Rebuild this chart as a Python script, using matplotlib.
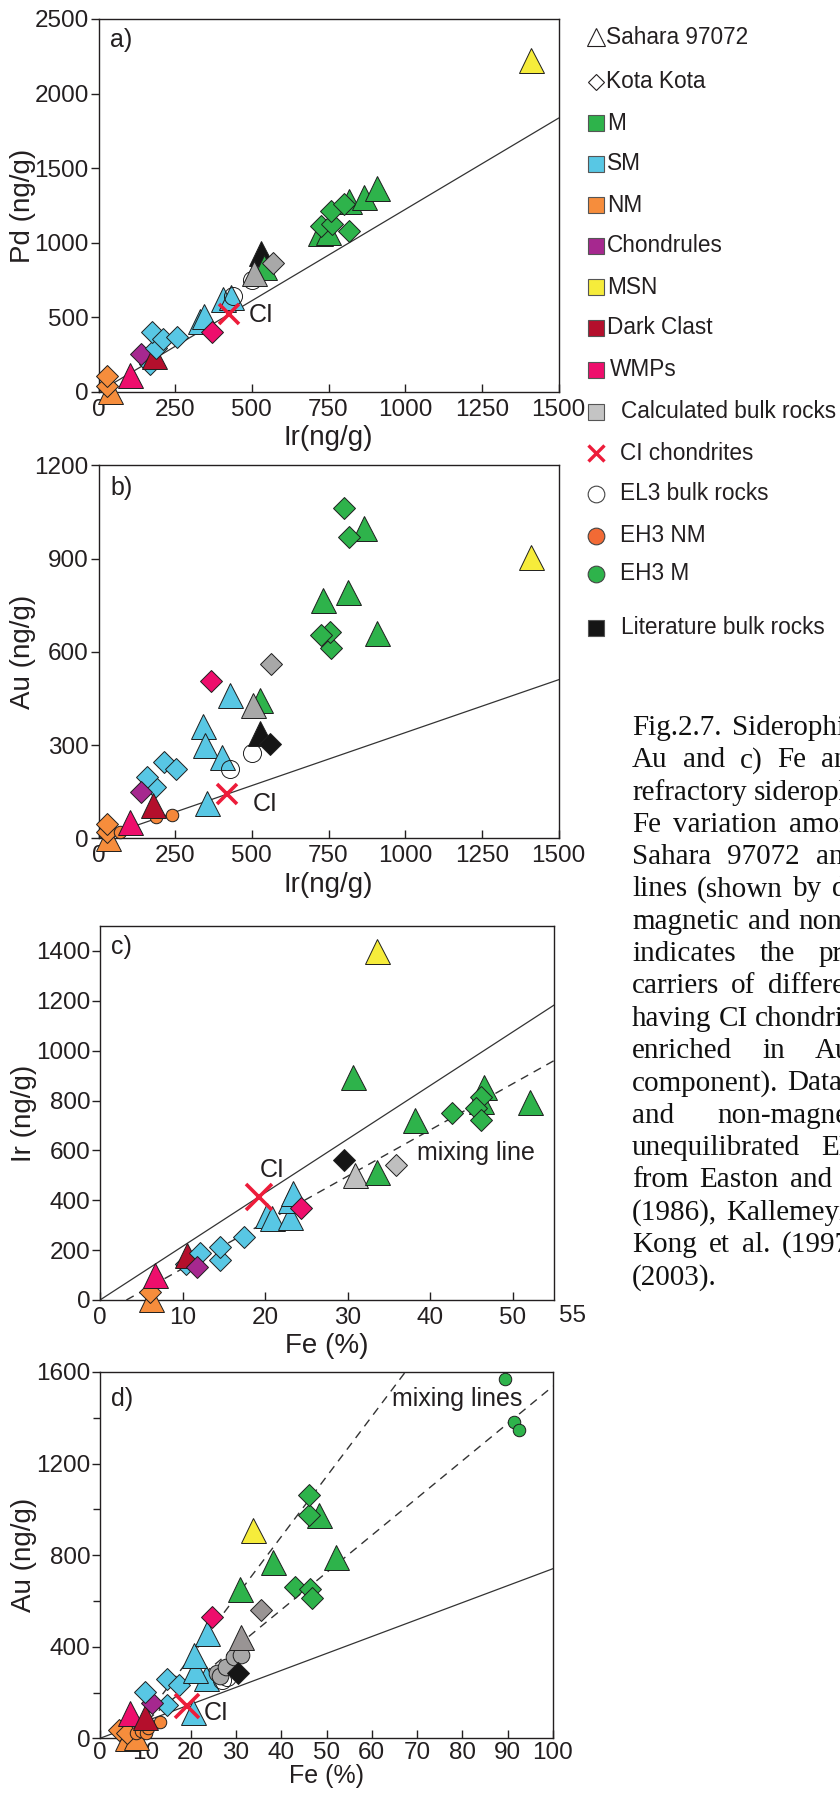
import matplotlib
matplotlib.use("Agg")
import matplotlib.pyplot as plt

plt.rcParams["font.family"] = ["Liberation Sans", "DejaVu Sans"]

# fill colour of each sample group
colors = {
    "M": "#2eb34b", "SM": "#58c7e4", "NM": "#f68d3c", "Chondrules": "#a6288f",
    "MSN": "#f6ec3b", "Dark Clast": "#b40f2c", "WMPs": "#ee0e6c",
    "Calc": "#a8a8a8", "CalcL": "#bfbfbf", "CalcD": "#999494",
    "EL3": "none", "EH3 NM": "#f5873a", "EH3 M": "#2eb34b", "Lit": "#151515",
}

# (group, marker, x, y); ^ = Sahara 97072, D = Kota Kota
ir_pd = [
    ("NM", "^", 36, 5), ("NM", "D", 28, 38), ("NM", "D", 28, 105),
    ("WMPs", "^", 103, 113),
    ("SM", "D", 169, 185),
    ("Chondrules", "D", 137, 255), ("Dark Clast", "^", 181, 243),
    ("SM", "D", 187, 292), ("SM", "D", 175, 401), ("SM", "D", 211, 356), ("SM", "D", 255, 367),
    ("SM", "^", 330, 478), ("SM", "^", 345, 510),
    ("WMPs", "D", 370, 405),
    ("SM", "^", 405, 625), ("SM", "^", 433, 635), ("EL3", "o", 440, 645),
    ("EL3", "o", 502, 750), ("Lit", "^", 529, 930), ("M", "^", 540, 835),
    ("Calc", "^", 506, 798), ("Calc", "D", 568, 866),
    ("M", "^", 722, 1067), ("M", "^", 749, 1075), ("M", "^", 818, 1280),
    ("M", "^", 865, 1310), ("M", "^", 908, 1370),
    ("M", "D", 724, 1115), ("M", "D", 760, 1125), ("M", "D", 757, 1215),
    ("M", "D", 800, 1262), ("M", "D", 818, 1080),
    ("MSN", "^", 1410, 2225),
]

ir_au = [
    ("NM", "^", 30, 3), ("NM", "D", 28, 22), ("NM", "D", 28, 48),
    ("EH3 NM", "o", 70, 22), ("WMPs", "^", 103, 52),
    ("EH3 NM", "o", 186, 70), ("EH3 NM", "o", 239, 76),
    ("SM", "D", 184, 167), ("SM", "D", 159, 199),
    ("Chondrules", "D", 138, 150), ("Dark Clast", "^", 177, 108),
    ("SM", "D", 214, 247), ("SM", "D", 253, 222),
    ("SM", "^", 353, 115),
    ("SM", "^", 342, 362), ("SM", "^", 347, 301), ("SM", "^", 402, 263),
    ("EL3", "o", 429, 222), ("EL3", "o", 499, 276),
    ("Lit", "^", 527, 338), ("Lit", "D", 559, 304),
    ("M", "^", 527, 445), ("Calc", "^", 503, 429), ("Calc", "D", 561, 560),
    ("WMPs", "D", 366, 507), ("SM", "^", 429, 461),
    ("M", "^", 909, 660), ("M", "D", 757, 612), ("M", "D", 755, 665), ("M", "D", 727, 655),
    ("M", "^", 731, 767), ("M", "^", 812, 794),
    ("M", "^", 866, 998), ("M", "D", 818, 971), ("M", "D", 800, 1063),
    ("MSN", "^", 1409, 907),
]

fe_ir = [
    ("NM", "^", 6.2, 5), ("NM", "D", 6.0, 33), ("WMPs", "^", 6.7, 100),
    ("SM", "D", 10.4, 145), ("Dark Clast", "^", 10.5, 180), ("SM", "D", 12.1, 187),
    ("Chondrules", "D", 11.8, 134),
    ("SM", "D", 14.5, 160), ("SM", "D", 14.5, 214), ("SM", "D", 17.4, 254),
    ("SM", "^", 20.2, 340), ("SM", "^", 20.8, 330), ("SM", "^", 23.0, 334),
    ("SM", "^", 23.0, 401), ("SM", "^", 23.4, 428),
    ("WMPs", "D", 24.4, 368),
    ("Lit", "D", 29.5, 562), ("CalcL", "^", 30.9, 502), ("M", "^", 33.6, 515),
    ("CalcL", "D", 35.8, 542),
    ("M", "^", 30.7, 896), ("M", "^", 38.2, 722), ("M", "D", 42.7, 749),
    ("M", "^", 46.5, 856), ("M", "^", 46.1, 800), ("M", "D", 46.1, 816),
    ("M", "D", 45.5, 769), ("M", "D", 46.1, 722),
    ("M", "^", 52.1, 796), ("MSN", "^", 33.5, 1400),
]

fe_au = [
    ("NM", "^", 5.9, 2), ("NM", "^", 8.0, 4), ("NM", "D", 4.1, 36), ("NM", "D", 5.9, 22),
    ("EH3 NM", "o", 7.9, 22), ("EH3 NM", "o", 9.0, 30), ("EH3 NM", "o", 10.1, 22),
    ("EH3 NM", "o", 10.7, 44), ("EH3 NM", "o", 13.3, 72),
    ("WMPs", "^", 6.7, 109), ("Dark Clast", "^", 10.0, 94),
    ("SM", "D", 14.8, 145), ("Chondrules", "D", 11.5, 155),
    ("SM", "D", 10.0, 203), ("SM", "D", 14.7, 257), ("SM", "D", 17.4, 232),
    ("SM", "^", 20.6, 116),
    ("SM", "^", 23.3, 262), ("SM", "^", 21.0, 300), ("SM", "^", 20.7, 363), ("SM", "^", 23.6, 458),
    ("EL3", "o", 27.0, 254), ("EL3", "o", 28.1, 269),
    ("Calc", "o", 25.9, 284), ("Calc", "o", 26.5, 270), ("Calc", "o", 27.8, 312),
    ("Calc", "o", 29.6, 356), ("Calc", "o", 31.1, 363),
    ("Lit", "D", 30.4, 286),
    ("WMPs", "D", 24.8, 528),
    ("CalcD", "^", 31.1, 443), ("CalcD", "D", 35.6, 560),
    ("M", "^", 31.0, 654), ("M", "^", 38.1, 770), ("M", "^", 52.2, 792),
    ("M", "D", 43.0, 661), ("M", "D", 46.3, 654), ("M", "D", 46.7, 611),
    ("MSN", "^", 33.7, 909),
    ("M", "^", 48.3, 974), ("M", "D", 46.2, 974), ("M", "D", 46.2, 1062),
    ("EH3 M", "o", 89.5, 1568), ("EH3 M", "o", 91.3, 1382), ("EH3 M", "o", 92.6, 1348),
]

# CI chondrite composition in each projection
ci_ir_pd = (425, 520)
ci_ir_au = (420, 143)
ci_fe_ir = (19.3, 415)
ci_fe_au = (19.3, 143)

# mixing lines between magnetic and non-magnetic fractions
mix_fe_ir = ([3.2, 55], [0, 960])
mix_fe_au_1 = ([8, 67.4], [40, 1600])
mix_fe_au_2 = ([8, 100], [40, 1538])

legend_entries = [
    ("tri", "Sahara 97072"), ("dia", "Kota Kota"), ("M", "M"), ("SM", "SM"), ("NM", "NM"),
    ("Chondrules", "Chondrules"), ("MSN", "MSN"), ("Dark Clast", "Dark Clast"),
    ("WMPs", "WMPs"), ("Calc", "Calculated bulk rocks"), ("CI", "CI chondrites"),
    ("EL3", "EL3 bulk rocks"), ("EH3 NM", "EH3 NM"), ("EH3 M", "EH3 M"),
    ("Lit", "Literature bulk rocks"),
]
legend_y = [37, 82, 123, 164, 205, 246, 287, 328, 370, 412, 453, 494, 536, 574, 628]

caption_lines = [
    "Fig.2.7. Siderophile element plots of a) Ir and Pd, b) Ir and",
    "Au and c) Fe and Ir, and d) Fe and Au. The coherent",
    "refractory siderophile elements (Ir, Pd) and",
    "Fe variation among the metal fractions of",
    "Sahara 97072 and Kota Kota follow mixing",
    "lines (shown by dashed lines) between the",
    "magnetic and non-magnetic fractions, which",
    "indicates the presence of two metal",
    "carriers of different composition (one",
    "having CI chondritic ratios and the other",
    "enriched in Au and Fe relative to the Ir",
    "component). Data for the magnetic",
    "and non-magnetic fractions of",
    "unequilibrated EH3 chondrites are",
    "from Easton and Pillinger",
    "(1986), Kallemeyn et al. (1996),",
    "Kong et al. (1997) and Lodders",
    "(2003).",
]
caption_gaps = [11, 15, 7, 12, 16, 10, 9, 24, 12, 7, 30, 9, 43, 21, 11, 9, 12, 7]

INK = "#231f20"
CI_RED = "#ed1c3a"
msize = {"^": 18, "D": 11.5}
circle_size = {"EL3": 13, "EH3 NM": 9, "EH3 M": 9, "Calc": 12}


def draw_points(ax, rows):
    for i, (grp, mk, x, y) in enumerate(rows):
        ms = circle_size[grp] if mk == "o" else msize[mk]
        ax.plot(x, y, ls="none", marker=mk, ms=ms, mfc=colors[grp], mec="#1e1e1e",
                mew=0.7, zorder=3 + i * 0.01, clip_on=False)


def style_axes(ax, xlim, ylim, xticks, yticks, xlabel, ylabel, tag, tag_y,
               xpad=3, xsize=20, tickpad=5):
    ax.set_xlim(*xlim)
    ax.set_ylim(*ylim)
    ax.set_xticks(xticks)
    ax.set_yticks(yticks)
    for s in ax.spines.values():
        s.set_linewidth(1.0)
        s.set_color(INK)
    ax.tick_params(axis="x", direction="in", length=6, width=1, pad=tickpad,
                   labelsize=17.5, colors=INK)
    ax.tick_params(axis="y", direction="out", length=6, width=1, pad=1,
                   labelsize=17.5, colors=INK)
    ax.tick_params(which="minor", axis="y", direction="out", length=5, width=1, colors=INK)
    ax.set_xlabel(xlabel, fontsize=xsize, color=INK, labelpad=xpad)
    ax.set_ylabel(ylabel, fontsize=20, color=INK, labelpad=-1)
    ax.text(0.025, tag_y, tag, transform=ax.transAxes, fontsize=18, color=INK,
            ha="left", va="center")


def ci_line(ax, ci, xmax):
    ax.plot([0, xmax], [0, ci[1] / ci[0] * xmax], color="#333333", lw=0.9, zorder=2)


def ci_mark(ax, ci, ms):
    ax.plot(*ci, ls="none", marker="x", ms=ms, mew=2.6, color=CI_RED, zorder=6)


fig = plt.figure(figsize=(8.4, 17.95), dpi=100)
W, H = 840, 1795


def box(l, t, r, b):
    return [l / W, 1 - b / H, (r - l) / W, (b - t) / H]


# a) Ir vs Pd
ax_a = fig.add_axes(box(98.5, 19, 558.5, 392))
ci_line(ax_a, ci_ir_pd, 1500)
draw_points(ax_a, ir_pd)
ci_mark(ax_a, ci_ir_pd, 14)
ax_a.text(490, 515, "CI", fontsize=18, color=INK, va="center")
style_axes(ax_a, (0, 1500), (0, 2500), range(0, 1501, 250), range(0, 2501, 500),
           "Ir(ng/g)", "Pd (ng/g)", "a)", 0.945)

# b) Ir vs Au
ax_b = fig.add_axes(box(98.5, 465.5, 558.5, 838.5))
ci_line(ax_b, ci_ir_au, 1500)
draw_points(ax_b, ir_au)
ci_mark(ax_b, ci_ir_au, 14)
ax_b.text(503, 112, "CI", fontsize=18, color=INK, va="center")
style_axes(ax_b, (0, 1500), (0, 1200), range(0, 1501, 250), range(0, 1201, 300),
           "Ir(ng/g)", "Au (ng/g)", "b)", 0.94)

# c) Fe vs Ir
ax_c = fig.add_axes(box(100, 926, 554, 1300))
ci_line(ax_c, ci_fe_ir, 55)
ax_c.plot(*mix_fe_ir, color="#333333", lw=1.0, ls=(0, (6, 4.5)), zorder=2)
draw_points(ax_c, fe_ir)
ci_mark(ax_c, ci_fe_ir, 19)
ax_c.text(19.3, 522, "CI", fontsize=18, color=INK, va="center")
ax_c.text(38.4, 589, "mixing line", fontsize=18, color=INK, va="center")
style_axes(ax_c, (0, 55), (0, 1500), range(0, 51, 10), range(0, 1401, 200),
           "Fe (%)", "Ir (ng/g)", "c)", 0.945)
ax_c.text(1.01, -0.014, "55", transform=ax_c.transAxes, fontsize=17.5, color=INK,
          ha="left", va="top")

# d) Fe vs Au
ax_d = fig.add_axes(box(100, 1372, 553, 1738.3))
ci_line(ax_d, ci_fe_au, 100)
ax_d.plot(*mix_fe_au_1, color="#333333", lw=1.0, ls=(0, (6, 4.5)), zorder=2)
ax_d.plot(*mix_fe_au_2, color="#333333", lw=1.0, ls=(0, (6, 4.5)), zorder=2)
draw_points(ax_d, fe_au)
ci_mark(ax_d, ci_fe_au, 17)
ax_d.text(22.8, 112, "CI", fontsize=18, color=INK, va="center")
ax_d.text(64.5, 1484, "mixing lines", fontsize=18, color=INK, va="center")
style_axes(ax_d, (0, 100), (0, 1600), range(0, 101, 10), range(0, 1601, 400),
           "Fe (%)", "Au (ng/g)", "d)", 0.925, xpad=0, xsize=18, tickpad=3)
ax_d.set_yticks(range(200, 1601, 400), minor=True)

# overlay in pixel units for the legend and caption
ov = fig.add_axes([0, 0, 1, 1])
ov.set_xlim(0, W)
ov.set_ylim(H, 0)
ov.axis("off")

for (key, label), y in zip(legend_entries, legend_y):
    x_sym, x_txt = 596, 607
    if key == "tri":
        ov.plot(x_sym, y, marker="^", ms=12.5, mfc="none", mec=INK, mew=0.8)
        x_txt = 606
    elif key == "dia":
        ov.plot(x_sym, y, marker="D", ms=8.2, mfc="none", mec=INK, mew=0.8)
        x_txt = 606
    elif key == "CI":
        ov.plot(x_sym, y, marker="x", ms=11, mew=2.4, color=CI_RED)
        x_txt = 620
    elif key in ("EL3", "EH3 NM", "EH3 M"):
        fc = "white" if key == "EL3" else ("#f26a35" if key == "EH3 NM" else colors[key])
        ov.plot(x_sym, y, marker="o", ms=12, mfc=fc, mec="#444444", mew=0.8)
        x_txt = 620
    else:
        fc = "#c4c4c4" if key == "Calc" else colors[key]
        ov.plot(x_sym, y, marker="s", ms=12, mfc=fc, mec="#555555", mew=0.8)
        if key in ("Calc", "Lit"):
            x_txt = 621
        elif key == "WMPs":
            x_txt = 610
    ov.text(x_txt, y, label, fontsize=16.3, color=INK, ha="left", va="center")

# justified caption, set word by word so the spacing can be stretched
renderer = fig.canvas.get_renderer()
cap_x0, cap_y0, cap_dy = 632, 728, 32.3
for i, (line, gap) in enumerate(zip(caption_lines, caption_gaps)):
    x = cap_x0
    y = cap_y0 + i * cap_dy
    for word in line.split():
        t = ov.text(x, y, word, fontsize=21, family=["Liberation Serif", "DejaVu Serif"],
                    color="#111111", ha="left", va="center")
        x += t.get_window_extent(renderer).width + gap

fig.savefig("out.png", dpi=100)
